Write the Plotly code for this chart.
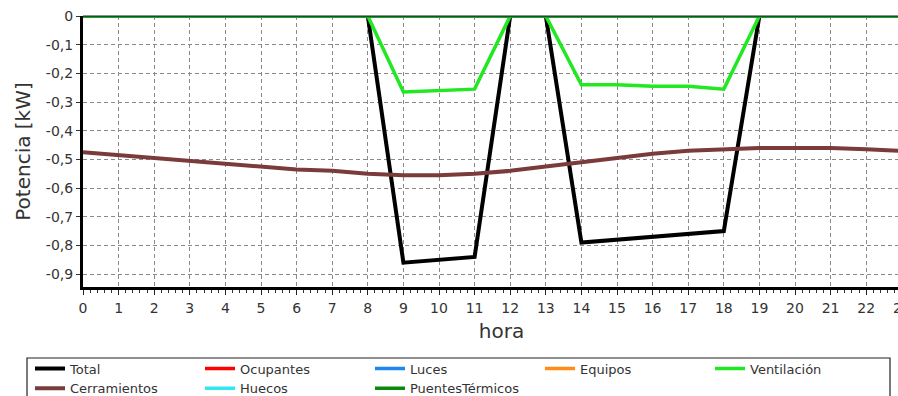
import plotly.graph_objects as go

hours = list(range(24))
total = [0, 0, 0, 0, 0, 0, 0, 0, 0, -0.86, -0.85, -0.84, 0, 0, -0.79, -0.78, -0.77, -0.76, -0.75, 0, 0, 0, 0, 0]
ventilacion = [0, 0, 0, 0, 0, 0, 0, 0, 0, -0.265, -0.26, -0.255, 0, 0, -0.24, -0.24, -0.245, -0.245, -0.255, 0, 0, 0, 0, 0]
cerramientos = [-0.475, -0.485, -0.495, -0.505, -0.515, -0.525, -0.535, -0.54, -0.55, -0.555, -0.555, -0.55,
                -0.54, -0.525, -0.51, -0.495, -0.48, -0.47, -0.465, -0.46, -0.46, -0.46, -0.465, -0.47]
ocupantes = [0] * 24
luces = [0] * 24
equipos = [0] * 24
huecos = [0] * 24
puentes = [0] * 24

y_ticks = [0, -0.1, -0.2, -0.3, -0.4, -0.5, -0.6, -0.7, -0.8, -0.9]
y_labels = ["0", "-0,1", "-0,2", "-0,3", "-0,4", "-0,5", "-0,6", "-0,7", "-0,8", "-0,9"]

# (name, values, colour, legend column)
series = [
    ("Total", total, "#000000", "legend"),
    ("Ocupantes", ocupantes, "#ff0000", "legend2"),
    ("Luces", luces, "#1f86ee", "legend3"),
    ("Equipos", equipos, "#ff8c1a", "legend4"),
    ("Ventilación", ventilacion, "#22e822", "legend5"),
    ("Cerramientos", cerramientos, "#7b3b3b", "legend"),
    ("Huecos", huecos, "#33e6f0", "legend2"),
    ("PuentesTérmicos", puentes, "#0a8a0a", "legend3"),
]

FONT = "DejaVu Sans, Verdana, sans-serif"
# the chart is wider than the 898px window; the right part is cropped like the original
W, H = 920, 396
ML, MR, MT, MB = 83, 0, 16, 109
PW, PH = W - ML - MR, H - MT - MB
HOUR_PX = 35.6
X_MAX = PW / HOUR_PX


def px_to_paper_x(px):
    return (px - ML) / PW


def px_to_paper_y(py):
    return (H - MB - py) / PH


fig = go.Figure()
for name, vals, col, leg in series:
    fig.add_trace(go.Scatter(x=hours, y=vals, name=name, mode="lines", legend=leg,
                             line=dict(color=col, width=4 if name in ("Total", "Cerramientos") else 3.5)))

legend_common = dict(orientation="v", xanchor="left", yanchor="top", bgcolor="rgba(0,0,0,0)",
                     borderwidth=0, font=dict(family=FONT, size=13, color="#333333"),
                     tracegroupgap=0, itemwidth=30)
legend_lefts = [30, 200, 370, 540, 710]
legends = {}
for i, lx in enumerate(legend_lefts):
    key = "legend" if i == 0 else f"legend{i + 1}"
    legends[key] = dict(legend_common, x=px_to_paper_x(lx), y=px_to_paper_y(353.5))

fig.update_layout(
    width=W, height=H,
    margin=dict(l=ML, r=MR, t=MT, b=MB, autoexpand=False),
    paper_bgcolor="white", plot_bgcolor="white",
    font=dict(family=FONT, color="#333333", size=13),
    showlegend=True,
    **legends,
    xaxis=dict(range=[0, X_MAX], dtick=1, tick0=0, showgrid=True, automargin=False,
               gridcolor="#8a8a8a", griddash="4px,3px", gridwidth=1,
               showline=True, linecolor="#000000", linewidth=3,
               ticks="outside", ticklen=5, tickcolor="#222222", ticklabelstandoff=1,
               minor=dict(dtick=0.2, ticks="outside", ticklen=3, tickcolor="#333333", showgrid=False),
               tickfont=dict(family=FONT, size=14, color="#333333"),
               title=dict(text="hora", font=dict(family=FONT, size=20, color="#333333"), standoff=10),
               zeroline=False),
    yaxis=dict(range=[-0.945, 0], tickvals=y_ticks, ticktext=y_labels, showgrid=True, automargin=False,
               gridcolor="#8a8a8a", griddash="4px,3px", gridwidth=1,
               showline=True, linecolor="#000000", linewidth=3,
               ticks="outside", ticklen=4, tickcolor="#333333",
               tickfont=dict(family=FONT, size=14, color="#333333"),
               title=dict(text="Potencia [kW]", font=dict(family=FONT, size=20, color="#333333"), standoff=10),
               zeroline=False),
)
# thin top frame line
fig.add_shape(type="line", xref="paper", yref="paper", x0=0, x1=1, y0=1, y1=1,
              line=dict(color="#222222", width=1))
# legend frame
fig.add_shape(type="rect", xref="paper", yref="paper",
              x0=px_to_paper_x(27), x1=px_to_paper_x(890), y0=px_to_paper_y(358), y1=px_to_paper_y(405),
              line=dict(color="#222222", width=1.2), fillcolor="rgba(0,0,0,0)")

fig.write_html("out.html", config={"displayModeBar": False},
               post_script="document.body.style.margin='0px';document.body.style.overflow='hidden';"
                           "document.documentElement.style.overflow='hidden';")
